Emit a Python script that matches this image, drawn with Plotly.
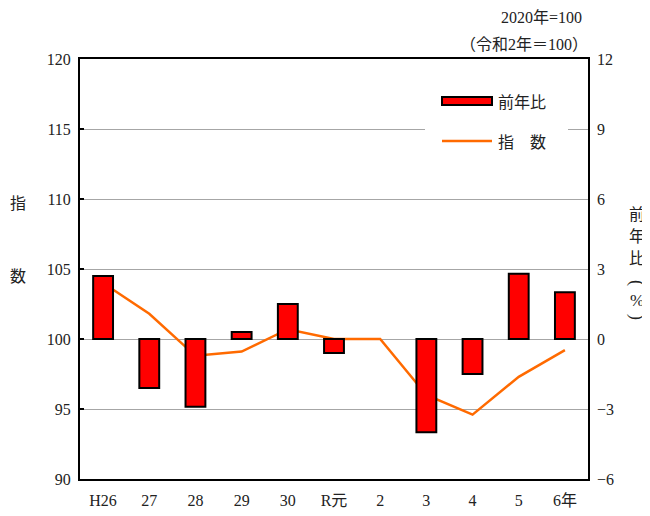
import plotly.graph_objects as go

categories = ["H26", "27", "28", "29", "30", "R元", "2", "3", "4", "5", "6年"]
yoy_pct = [2.7, -2.1, -2.9, 0.3, 1.5, -0.6, 0.0, -4.0, -1.5, 2.8, 2.0]
index_vals = [104.0, 101.8, 98.8, 99.1, 100.7, 100.0, 100.0, 96.0, 94.6, 97.3, 99.2]
left_ticks = [90, 95, 100, 105, 110, 115, 120]
right_ticks = [-6, -3, 0, 3, 6, 9, 12]

SERIF = "'Liberation Serif', 'Times New Roman', 'DejaVu Serif', 'Noto Sans CJK JP', serif"
CJK = "'Noto Sans CJK JP'"

# page body has an 8px margin: figure occupies screen 8..650
OFF = 8
FW, FH = 642, 508
L, T, W, H = 80 - OFF, 59 - OFF, 508.0, 420.0

fig = go.Figure()
fig.add_trace(go.Bar(
    x=categories, y=[v if v != 0 else None for v in yoy_pct], yaxis="y2",
    marker=dict(color="#ff0000", line=dict(color="black", width=2)),
    width=0.43, name="前年比", showlegend=False,
))
fig.add_trace(go.Scatter(
    x=categories, y=index_vals, yaxis="y", mode="lines",
    line=dict(color="#ff6a00", width=2.5), name="指　数", showlegend=False,
))

fig.update_layout(
    width=FW, height=FH,
    margin=dict(l=L, r=FW - L - W, t=T, b=FH - T - H, pad=0),
    paper_bgcolor="white", plot_bgcolor="white",
    font=dict(family=SERIF, size=16, color="#222"),
    xaxis=dict(
        type="category", showline=True, linecolor="black", linewidth=2, mirror=True,
        showgrid=False, ticks="", tickfont=dict(family=SERIF, size=16),
        ticklabelstandoff=6, automargin=False,
    ),
    yaxis=dict(
        range=[90, 120], tickvals=left_ticks, showgrid=True, gridcolor="#a6a6a6", gridwidth=1,
        showline=True, linecolor="black", linewidth=2, mirror=True,
        ticks="inside", ticklen=4, tickcolor="black", tickwidth=2,
        zeroline=False, tickfont=dict(family=SERIF, size=16), ticklabelstandoff=4,
        automargin=False,
    ),
    yaxis2=dict(
        range=[-6, 12], tickvals=right_ticks, overlaying="y", side="right",
        showgrid=False, zeroline=False, showline=False, ticks="",
        tickfont=dict(family=SERIF, size=16), ticklabelstandoff=8, automargin=False,
    ),
    bargap=0.5,
)

def px(x):
    return (x - OFF - L) / W
def py(y):
    return (T + H - (y - OFF)) / H

shapes = [
    dict(type="rect", xref="paper", yref="paper", x0=px(425), x1=px(568), y0=py(160), y1=py(88),
         fillcolor="white", line=dict(width=0), layer="above"),
    dict(type="rect", xref="paper", yref="paper", x0=px(442), x1=px(492), y0=py(105), y1=py(97),
         fillcolor="#ff0000", line=dict(color="black", width=2), layer="above"),
    dict(type="line", xref="paper", yref="paper", x0=px(442), x1=px(492), y0=py(141), y1=py(141),
         line=dict(color="#ff6a00", width=2.5), layer="above"),
]
fig.update_layout(shapes=shapes)

def ann(text, x, y, xanchor="center", family=CJK, size=16, angle=0):
    return dict(text=text, x=px(x), y=py(y), xref="paper", yref="paper", xanchor=xanchor,
                yanchor="middle", showarrow=False, textangle=angle,
                font=dict(family=family, size=size))

annotations = [
    ann("前年比", 496, 101, "left"),
    ann("指　数", 496, 141, "left"),
    ann("指", 18, 202),
    ann("数", 18, 275),
    ann("前", 637, 213),
    ann("年", 637, 235),
    ann("比", 637, 257),
    ann("(", 637, 283, family=SERIF, size=18, angle=90),
    ann("%", 637, 300, family=SERIF, size=17),
    ann(")", 637, 317, family=SERIF, size=18, angle=90),
    ann("2020年=100", 584, 18, "right", SERIF),
    ann("（令和2年＝100）", 590, 45, "right", SERIF),
]
fig.update_layout(annotations=annotations)

fig.write_html("out.html")
